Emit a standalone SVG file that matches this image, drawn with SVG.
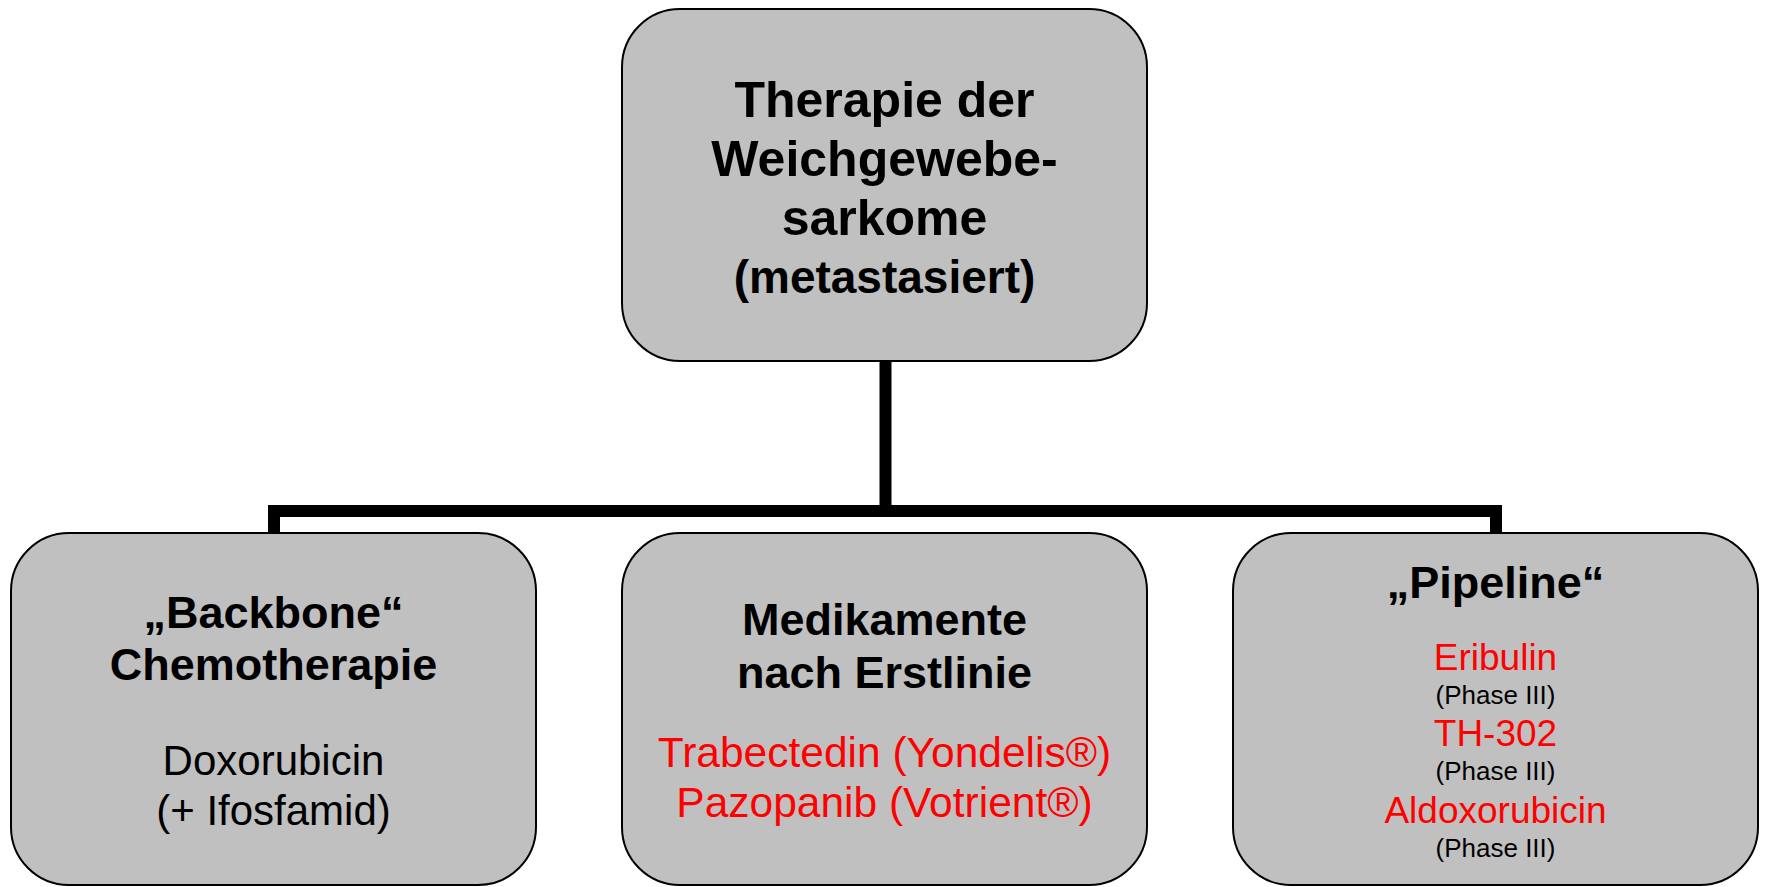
<svg xmlns="http://www.w3.org/2000/svg" width="1767" height="887" viewBox="0 0 1767 887">
<style>
.box{fill:#c0c0c0;stroke:#000;stroke-width:2}
.conn{fill:none;stroke:#000;stroke-width:12;stroke-linejoin:miter;stroke-linecap:butt}
text{font-family:"Liberation Sans",Arial,sans-serif;text-anchor:middle}
.t{font-weight:bold;fill:#000}
.n{fill:#000}
.r{fill:#ff0000}
</style>
<rect width="1767" height="887" fill="#fff"/>
<g id="connectors">
<path class="conn" d="M885.5 361 V511"/>
<path class="conn" d="M274 534 V511 H1496 V534"/>
</g>
<g id="node-root">
<rect class="box" x="622" y="9" width="525" height="352" rx="58" ry="58"/>
<text class="t" x="884.5" font-size="50"><tspan x="884.5" y="117">Therapie der</tspan><tspan x="884.5" y="176">Weichgewebe-</tspan><tspan x="884.5" y="235">sarkome</tspan><tspan x="884.5" y="293" font-size="46">(metastasiert)</tspan></text>
</g>
<g id="node-backbone">
<rect class="box" x="11" y="533" width="525" height="352" rx="58" ry="58"/>
<text class="t" font-size="45"><tspan x="273.5" y="628">„Backbone“</tspan><tspan x="273.5" y="680">Chemotherapie</tspan></text>
<text class="n" font-size="42"><tspan x="273.5" y="775">Doxorubicin</tspan><tspan x="273.5" y="825">(+ Ifosfamid)</tspan></text>
</g>
<g id="node-medikamente">
<rect class="box" x="622" y="533" width="525" height="352" rx="58" ry="58"/>
<text class="t" font-size="45"><tspan x="884.5" y="635">Medikamente</tspan><tspan x="884.5" y="688">nach Erstlinie</tspan></text>
<text class="r" font-size="42.5"><tspan x="884.5" y="767">Trabectedin (Yondelis®)</tspan><tspan x="884.5" y="817">Pazopanib (Votrient®)</tspan></text>
</g>
<g id="node-pipeline">
<rect class="box" x="1233" y="533" width="525" height="352" rx="58" ry="58"/>
<text class="t" font-size="45" x="1495.5" y="598">„Pipeline“</text>
<text class="r" font-size="37" x="1495.5" y="670">Eribulin</text>
<text class="n" font-size="26" x="1495.5" y="704">(Phase III)</text>
<text class="r" font-size="37" x="1495.5" y="746">TH-302</text>
<text class="n" font-size="26" x="1495.5" y="780">(Phase III)</text>
<text class="r" font-size="37" x="1495.5" y="823">Aldoxorubicin</text>
<text class="n" font-size="26" x="1495.5" y="857">(Phase III)</text>
</g>
</svg>
